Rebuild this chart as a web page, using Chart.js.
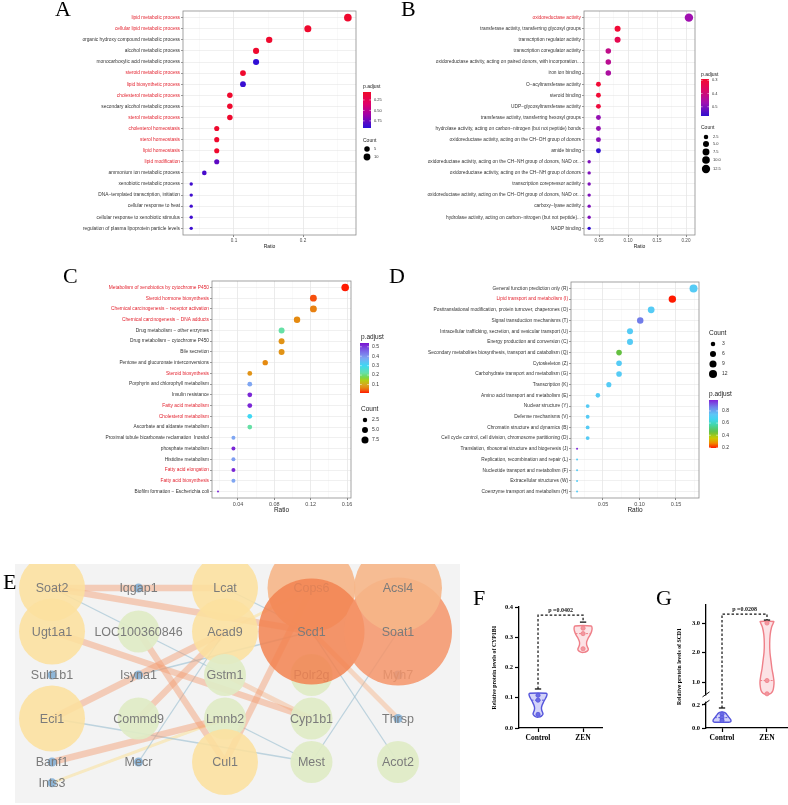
<!DOCTYPE html>
<html lang="en">
<head>
  <meta charset="UTF-8">
  <title>Enrichment, network and protein levels</title>
  <script src="https://cdn.jsdelivr.net/npm/chart.js"></script>
  <style>
    body { margin: 0; background: #fff; }
    #page { position: relative; width: 788px; height: 805px; overflow: hidden; background: #fff; }
    #page canvas { position: absolute; }
    .tag {
      position: absolute;
      font-family: "Liberation Serif", "Times New Roman", serif;
      font-size: 22px;
      line-height: 1;
      color: #000;
    }
  </style>
</head>
<body>
<div id="page">
  <canvas id="chartA" width="400" height="260" style="left:0;top:0"></canvas>
  <canvas id="chartB" width="388" height="260" style="left:400px;top:0"></canvas>
  <canvas id="chartC" width="400" height="260" style="left:0;top:270px"></canvas>
  <canvas id="chartD" width="388" height="260" style="left:400px;top:270px"></canvas>
  <canvas id="chartE" width="445" height="239" style="left:15px;top:564px"></canvas>
  <canvas id="chartF" width="145" height="165" style="left:465px;top:585px"></canvas>
  <canvas id="chartG" width="138" height="165" style="left:650px;top:585px"></canvas>

  <div class="tag" style="left:55px;top:-2px">A</div>
  <div class="tag" style="left:401px;top:-2px">B</div>
  <div class="tag" style="left:63px;top:265px">C</div>
  <div class="tag" style="left:389px;top:265px">D</div>
  <div class="tag" style="left:3px;top:571px">E</div>
  <div class="tag" style="left:473px;top:587px">F</div>
  <div class="tag" style="left:656px;top:587px">G</div>
</div>

<script>
// ---------- A: GO biological process ----------
const termsA = ['lipid metabolic process', 'cellular lipid metabolic process', 'organic hydroxy compound metabolic process',
  'alcohol metabolic process', 'monocarboxylic acid metabolic process', 'steroid metabolic process', 'lipid biosynthetic process',
  'cholesterol metabolic process', 'secondary alcohol metabolic process', 'sterol metabolic process', 'cholesterol homeostasis',
  'sterol homeostasis', 'lipid homeostasis', 'lipid modification', 'ammonium ion metabolic process', 'xenobiotic metabolic process',
  'DNA−templated transcription, initiation', 'cellular response to heat', 'cellular response to xenobiotic stimulus',
  'regulation of plasma lipoprotein particle levels'];
const ratioA = [0.265, 0.207, 0.151, 0.132, 0.132, 0.113, 0.113, 0.094, 0.094, 0.094, 0.075, 0.075, 0.075, 0.075, 0.057, 0.038, 0.038, 0.038, 0.038, 0.038];
const countA = [14, 11, 8, 7, 7, 6, 6, 5, 5, 5, 4, 4, 4, 4, 3, 2, 2, 2, 2, 2];
const padjA = [0.08, 0.08, 0.08, 0.08, 0.9, 0.08, 0.88, 0.08, 0.08, 0.08, 0.08, 0.08, 0.08, 0.78, 0.84, 0.86, 0.86, 0.86, 0.86, 0.87];
const redA = ['lipid metabolic process', 'cellular lipid metabolic process', 'steroid metabolic process', 'lipid biosynthetic process',
  'cholesterol metabolic process', 'sterol metabolic process', 'cholesterol homeostasis', 'sterol homeostasis', 'lipid homeostasis',
  'lipid modification'];

// ---------- B: GO molecular function ----------
const termsB = ['oxidoreductase activity', 'transferase activity, transferring glycosyl groups', 'transcription regulator activity',
  'transcription coregulator activity', 'oxidoreductase activity, acting on paired donors, with incorporation...', 'iron ion binding',
  'O−acyltransferase activity', 'steroid binding', 'UDP−glycosyltransferase activity', 'transferase activity, transferring hexosyl groups',
  'hydrolase activity, acting on carbon−nitrogen (but not peptide) bonds', 'oxidoreductase activity, acting on the CH−OH group of donors',
  'amide binding', 'oxidoreductase activity, acting on the CH−NH group of donors, NAD or...',
  'oxidoreductase activity, acting on the CH−NH group of donors', 'transcription corepressor activity',
  'oxidoreductase activity, acting on the CH−OH group of donors, NAD or...', 'carboxy−lyase activity',
  'hydrolase activity, acting on carbon−nitrogen (but not peptide)...', 'NADP binding'];
const ratioB = [0.205, 0.082, 0.082, 0.066, 0.066, 0.066, 0.049, 0.049, 0.049, 0.049, 0.049, 0.049, 0.049, 0.033, 0.033, 0.033, 0.033, 0.033, 0.033, 0.033];
const countB = [13, 5, 5, 4, 4, 4, 3, 3, 3, 3, 3, 3, 3, 2, 2, 2, 2, 2, 2, 2];
const padjB = [0.47, 0.30, 0.34, 0.42, 0.43, 0.45, 0.30, 0.30, 0.31, 0.48, 0.48, 0.49, 0.57, 0.5, 0.5, 0.5, 0.5, 0.5, 0.5, 0.57];
const redB = ['oxidoreductase activity'];

// ---------- C: KEGG ----------
const termsC = ['Metabolism of xenobiotics by cytochrome P450', 'Steroid hormone biosynthesis', 'Chemical carcinogenesis − receptor activation',
  'Chemical carcinogenesis − DNA adducts', 'Drug metabolism − other enzymes', 'Drug metabolism − cytochrome P450', 'Bile secretion',
  'Pentose and glucuronate interconversions', 'Steroid biosynthesis', 'Porphyrin and chlorophyll metabolism', 'Insulin resistance',
  'Fatty acid metabolism', 'Cholesterol metabolism', 'Ascorbate and aldarate metabolism', 'Proximal tubule bicarbonate reclamation  Inositol',
  'phosphate metabolism', 'Histidine metabolism', 'Fatty acid elongation', 'Fatty acid biosynthesis', 'Biofilm formation − Escherichia coli'];
const ratioC = [0.158, 0.123, 0.123, 0.105, 0.088, 0.088, 0.088, 0.070, 0.053, 0.053, 0.053, 0.053, 0.053, 0.053, 0.035, 0.035, 0.035, 0.035, 0.035, 0.018];
const countC = [9, 7, 7, 6, 5, 5, 5, 4, 3, 3, 3, 3, 3, 3, 2, 2, 2, 2, 2, 1];
const padjC = [0.01, 0.035, 0.06, 0.065, 0.22, 0.075, 0.075, 0.065, 0.075, 0.38, 0.52, 0.52, 0.30, 0.22, 0.38, 0.52, 0.39, 0.52, 0.38, 0.52];
const redC = ['Metabolism of xenobiotics by cytochrome P450', 'Steroid hormone biosynthesis', 'Chemical carcinogenesis − receptor activation',
  'Chemical carcinogenesis − DNA adducts', 'Steroid biosynthesis', 'Fatty acid metabolism', 'Cholesterol metabolism',
  'Fatty acid elongation', 'Fatty acid biosynthesis'];

// ---------- D: COG ----------
const termsD = ['General function prediction only (R)', 'Lipid transport and metabolism (I)',
  'Posttranslational modification, protein turnover, chaperones (O)', 'Signal transduction mechanisms (T)',
  'Intracellular trafficking, secretion, and vesicular transport (U)', 'Energy production and conversion (C)',
  'Secondary metabolites biosynthesis, transport and catabolism (Q)', 'Cytoskeleton (Z)', 'Carbohydrate transport and metabolism (G)',
  'Transcription (K)', 'Amino acid transport and metabolism (E)', 'Nuclear structure (Y)', 'Defense mechanisms (V)',
  'Chromatin structure and dynamics (B)', 'Cell cycle control, cell division, chromosome partitioning (D)',
  'Translation, ribosomal structure and biogenesis (J)', 'Replication, recombination and repair (L)',
  'Nucleotide transport and metabolism (F)', 'Extracellular structures (W)', 'Coenzyme transport and metabolism (H)'];
const ratioD = [0.174, 0.145, 0.116, 0.101, 0.087, 0.087, 0.072, 0.072, 0.072, 0.058, 0.043, 0.029, 0.029, 0.029, 0.029, 0.0145, 0.0145, 0.0145, 0.0145, 0.0145];
const countD = [12, 10, 8, 7, 6, 6, 5, 5, 5, 4, 3, 2, 2, 2, 2, 1, 1, 1, 1, 1];
const padjD = [0.72, 0.19, 0.72, 0.87, 0.72, 0.72, 0.45, 0.72, 0.72, 0.72, 0.72, 0.72, 0.72, 0.72, 0.72, 0.97, 0.72, 0.72, 0.72, 0.72];
const redD = ['Lipid transport and metabolism (I)'];

// ---------- E: interaction network ----------
const nodeName = ['Soat2', 'Iqgap1', 'Lcat', 'Cops6', 'Ugt1a1', 'LOC100360846', 'Acad9', 'Sult1b1', 'Isyna1', 'Gstm1', 'Polr2g', 'Myh7',
  'Eci1', 'Commd9', 'Lmnb2', 'Cyp1b1', 'Thrsp', 'Banf1', 'Mecr', 'Cul1', 'Mest', 'Acot2', 'Ints3', 'Scd1', 'Soat1', 'Acsl4'];
const nodeCol = [0, 1, 2, 3, 0, 1, 2, 0, 1, 2, 3, 4, 0, 1, 2, 3, 4, 0, 1, 2, 3, 4, 0, 3, 4, 4];
const nodeRow = [0, 0, 0, 0, 1, 1, 1, 2, 2, 2, 2, 2, 3, 3, 3, 3, 3, 4, 4, 4, 4, 4, 4.48, 1, 1, 0];
const nodeDegree = [4, 1, 4, 7, 4, 2, 4, 1, 1, 2, 2, 1, 4, 2, 2, 2, 1, 1, 1, 4, 2, 2, 1, 10, 9, 7];
const frontNodes = ['Scd1', 'Soat1', 'Acsl4'];
const edgeFrom = ['Soat2', 'Soat2', 'Ugt1a1', 'LOC100360846', 'Eci1', 'Commd9', 'Banf1', 'Cul1', 'Gstm1', 'Scd1',
  'Soat2', 'Lcat', 'Eci1', 'Isyna1', 'Mecr', 'Mest', 'Scd1', 'Lmnb2', 'Ints3', 'Acad9'];
const edgeTo = ['Lcat', 'Scd1', 'Cyp1b1', 'Cul1', 'Acad9', 'Acad9', 'Lmnb2', 'Cops6', 'Cyp1b1', 'Thrsp',
  'Gstm1', 'Scd1', 'Mest', 'Scd1', 'Acad9', 'Soat1', 'Acot2', 'Mest', 'Lmnb2', 'Cops6'];
const edgeScore = [0.92, 0.92, 0.95, 0.95, 0.95, 0.95, 0.95, 0.95, 0.8, 0.7, 0.3, 0.3, 0.3, 0.3, 0.3, 0.3, 0.3, 0.3, 0.5, 0.5];

// ---------- F / G: protein levels ----------
const groups = ['Control', 'ZEN'];
const cypTicks = [0, 0.1, 0.2, 0.3, 0.4];
const cypCtrlLevels = [0.036, 0.040, 0.046, 0.052, 0.058, 0.066, 0.075, 0.085, 0.095, 0.105, 0.112, 0.115];
const cypCtrlDensity = [0.15, 0.4, 0.55, 0.5, 0.42, 0.38, 0.45, 0.6, 0.78, 0.95, 1.0, 0.9];
const cypZenLevels = [0.250, 0.254, 0.260, 0.267, 0.275, 0.285, 0.296, 0.308, 0.320, 0.330, 0.337];
const cypZenDensity = [0.15, 0.45, 0.58, 0.5, 0.4, 0.4, 0.55, 0.78, 0.95, 1.0, 0.9];
const cypCtrl = [0.108, 0.092, 0.045];
const cypZen = [0.33, 0.312, 0.262];
const cypBracket = [0.129, 0.373, 0.35];
const cypP = 'p =0.0402';

const scdTicks = [0, 0.2, 1, 2, 3];
const scdCtrlLevels = [0.05, 0.055, 0.065, 0.08, 0.095, 0.11, 0.125, 0.135, 0.14];
const scdCtrlDensity = [0.8, 0.95, 1.0, 0.9, 0.75, 0.6, 0.45, 0.25, 0.05];
const scdZenLevels = [0.58, 0.62, 0.7, 0.85, 1.0, 1.2, 1.45, 1.7, 2.0, 2.3, 2.6, 2.85, 3.0, 3.05];
const scdZenDensity = [0.15, 0.45, 0.65, 0.75, 0.78, 0.7, 0.55, 0.45, 0.33, 0.3, 0.35, 0.5, 0.7, 0.75];
const scdCtrl = [0.12, 0.09, 0.065];
const scdZen = [3.0, 1.05, 0.6];
const scdBracket = [0.174, 3.305, 3.1];
const scdP = 'p =0.0208';

// ================= helpers =================
const SANS = '"Liberation Sans", Arial, sans-serif';
const SERIF = '"Liberation Serif", "Times New Roman", serif';
Chart.defaults.font.family = SANS;

function hexRgb(h) { return [1, 3, 5].map(i => parseInt(h.slice(i, i + 2), 16)); }
function colorAt(stops, p) {
  let c;
  if (p <= stops[0][0]) c = hexRgb(stops[0][1]);
  else if (p >= stops[stops.length - 1][0]) c = hexRgb(stops[stops.length - 1][1]);
  else {
    for (let i = 1; i < stops.length; i++) {
      if (p <= stops[i][0]) {
        const a = hexRgb(stops[i - 1][1]), b = hexRgb(stops[i][1]);
        const t = (p - stops[i - 1][0]) / (stops[i][0] - stops[i - 1][0]);
        c = a.map((v, k) => Math.round(v + (b[k] - v) * t));
        break;
      }
    }
  }
  return `rgb(${c[0]},${c[1]},${c[2]})`;
}

const framePlugin = {
  id: 'frame',
  afterDatasetsDraw(chart) {
    const { ctx, chartArea: a } = chart;
    ctx.save();
    ctx.strokeStyle = '#8c8c8c';
    ctx.lineWidth = 0.8;
    ctx.strokeRect(a.left, a.top, a.right - a.left, a.bottom - a.top);
    ctx.restore();
  }
};

// p.adjust colour bar + Count size key
function keyPlugin(k, stops, rOf) {
  return {
    id: 'key',
    afterDraw(chart) {
      const ctx = chart.ctx;
      ctx.save();
      ctx.textBaseline = 'middle';
      ctx.textAlign = 'left';
      ctx.fillStyle = '#222';
      ctx.font = `${k.tFont}px ${SANS}`;
      ctx.fillText('p.adjust', k.pTitle[0], k.pTitle[1]);
      const [bx, by, bw, bh] = k.bar;
      const g = ctx.createLinearGradient(0, by, 0, by + bh);
      for (let i = 0; i <= 20; i++) {
        const t = i / 20;
        g.addColorStop(t, colorAt(stops, k.pTop + (k.pBot - k.pTop) * t));
      }
      ctx.fillStyle = g;
      ctx.fillRect(bx, by, bw, bh);
      ctx.font = `${k.lFont}px ${SANS}`;
      k.pTicks.forEach((p, i) => {
        const y = by + (p - k.pTop) / (k.pBot - k.pTop) * bh;
        ctx.strokeStyle = '#fff';
        ctx.lineWidth = 0.5;
        ctx.beginPath();
        ctx.moveTo(bx, y); ctx.lineTo(bx + bw * 0.2, y);
        ctx.moveTo(bx + bw * 0.8, y); ctx.lineTo(bx + bw, y);
        ctx.stroke();
        ctx.fillStyle = '#333';
        ctx.fillText(k.pLabels[i], k.labX, y);
      });
      ctx.fillStyle = '#222';
      ctx.font = `${k.tFont}px ${SANS}`;
      ctx.fillText('Count', k.cTitle[0], k.cTitle[1]);
      ctx.font = `${k.lFont}px ${SANS}`;
      k.cVals.forEach((c, i) => {
        ctx.fillStyle = '#000';
        ctx.beginPath();
        ctx.arc(k.dotX, k.dotY[i], rOf(c), 0, Math.PI * 2);
        ctx.fill();
        ctx.fillStyle = '#333';
        ctx.fillText(k.cLabels[i], k.cLabX, k.dotY[i]);
      });
      ctx.restore();
    }
  };
}

function dotPlot(id, terms, ratio, count, padj, redTerms, s) {
  const rOf = c => s.rMin + (s.rMax - s.rMin) * Math.sqrt(Math.max(0, (c - s.cMin) / (s.cMax - s.cMin)));
  const isMajor = v => Math.abs(v / s.major - Math.round(v / s.major)) < 1e-6;
  return new Chart(document.getElementById(id), {
    type: 'scatter',
    data: {
      datasets: [{
        data: ratio.map((r, i) => ({ x: r, y: i })),
        pointRadius: count.map(rOf),
        pointHoverRadius: count.map(rOf),
        pointBackgroundColor: padj.map(p => colorAt(s.stops, p)),
        pointBorderWidth: 0,
        pointBorderColor: 'rgba(0,0,0,0)'
      }]
    },
    options: {
      responsive: false,
      animation: false,
      events: [],
      layout: { padding: s.pad, autoPadding: false },
      plugins: { legend: { display: false }, tooltip: { enabled: false } },
      scales: {
        x: {
          type: 'linear',
          min: s.xMin,
          max: s.xMax,
          afterBuildTicks: sc => {
            const t = [];
            for (let v = Math.ceil(s.xMin / s.minor - 1e-9) * s.minor; v <= s.xMax + 1e-9; v += s.minor) t.push({ value: +v.toFixed(4) });
            sc.ticks = t;
          },
          afterFit: sc => { sc.height = s.xH; },
          ticks: {
            autoSkip: false, maxRotation: 0, padding: 1, color: '#4d4d4d',
            font: { size: s.tickFont },
            callback: v => isMajor(v) ? v.toFixed(s.dec) : ''
          },
          grid: {
            color: c => isMajor(c.tick.value) ? '#e3e3e3' : '#f1f1f1',
            lineWidth: c => isMajor(c.tick.value) ? 0.7 : 0.4,
            tickLength: 2,
            tickColor: c => isMajor(c.tick.value) ? '#555' : 'rgba(0,0,0,0)'
          },
          border: { display: false },
          title: { display: true, text: 'Ratio', color: '#222', padding: 0, font: { size: s.titleFont } }
        },
        y: {
          type: 'linear',
          reverse: true,
          min: -0.6,
          max: terms.length - 0.4,
          afterBuildTicks: sc => { sc.ticks = terms.map((_, i) => ({ value: i })); },
          afterFit: sc => { sc.width = s.yW; },
          ticks: {
            autoSkip: false, padding: 1,
            font: { size: s.labFont },
            color: c => redTerms.includes(terms[c.tick.value]) ? '#e3232f' : '#333',
            callback: v => terms[v]
          },
          grid: { color: '#e6e6e6', lineWidth: 0.6, tickLength: 2, tickColor: '#555' },
          border: { display: false }
        }
      }
    },
    plugins: [framePlugin, keyPlugin(s.key, s.stops, rOf)]
  });
}

// ================= A =================
dotPlot('chartA', termsA, ratioA, countA, padjA, redA, {
  pad: { top: 11, right: 44, bottom: 10, left: 0 }, yW: 183, xH: 15,
  xMin: 0.0261, xMax: 0.2768, minor: 0.05, major: 0.1, dec: 1,
  labFont: 4.8, tickFont: 4.6, titleFont: 5,
  rMin: 1.7, rMax: 3.8, cMin: 2, cMax: 14,
  stops: [[0.06, '#f00a2a'], [0.35, '#e0006a'], [0.6, '#a000a8'], [0.92, '#2a10d8']],
  key: {
    tFont: 5, lFont: 4, pTitle: [363, 87], bar: [363, 92, 8, 36], pTop: 0.06, pBot: 0.92,
    pTicks: [0.25, 0.5, 0.75], pLabels: ['0.25', '0.50', '0.75'], labX: 374,
    cTitle: [363, 141], dotX: 367, dotY: [149, 157], cVals: [5, 10], cLabels: ['5', '10'], cLabX: 374
  }
});

// ================= B =================
dotPlot('chartB', termsB, ratioB, countB, padjB, redB, {
  pad: { top: 11, right: 93, bottom: 10, left: 0 }, yW: 184, xH: 15,
  xMin: 0.0241, xMax: 0.2155, minor: 0.025, major: 0.05, dec: 2,
  labFont: 4.8, tickFont: 4.6, titleFont: 5,
  rMin: 1.7, rMax: 4.2, cMin: 2, cMax: 13,
  stops: [[0.29, '#f50a30'], [0.38, '#d8086a'], [0.47, '#a010b0'], [0.57, '#3010d0']],
  key: {
    tFont: 5, lFont: 4, pTitle: [301, 75], bar: [301, 79, 8, 37], pTop: 0.29, pBot: 0.57,
    pTicks: [0.3, 0.4, 0.5], pLabels: ['0.3', '0.4', '0.5'], labX: 312,
    cTitle: [301, 128], dotX: 306, dotY: [137, 144, 152, 160, 169], cVals: [2.5, 5, 7.5, 10, 12.5],
    cLabels: ['2.5', '5.0', '7.5', '10.0', '12.5'], cLabX: 313
  }
});

// ================= C =================
dotPlot('chartC', termsC, ratioC, countC, padjC, redC, {
  pad: { top: 11, right: 49, bottom: 16, left: 0 }, yW: 212, xH: 16,
  xMin: 0.0114, xMax: 0.1644, minor: 0.02, major: 0.04, dec: 2,
  labFont: 4.8, tickFont: 5.5, titleFont: 6.5,
  rMin: 1.0, rMax: 3.8, cMin: 1, cMax: 9,
  stops: [[0.01, '#ff1a00'], [0.04, '#f45a10'], [0.065, '#e58a10'], [0.09, '#dca020'], [0.14, '#b8cc10'], [0.18, '#70d850'],
    [0.22, '#66e0a6'], [0.30, '#3ed8f4'], [0.38, '#7fa6f2'], [0.46, '#7a60e6'], [0.54, '#7a12d0']],
  key: {
    tFont: 6.5, lFont: 5, pTitle: [361, 67], bar: [360, 73, 9, 50], pTop: 0.54, pBot: 0.01,
    pTicks: [0.5, 0.4, 0.3, 0.2, 0.1], pLabels: ['0.5', '0.4', '0.3', '0.2', '0.1'], labX: 372,
    cTitle: [361, 139], dotX: 365, dotY: [150, 160, 170], cVals: [2.5, 5, 7.5], cLabels: ['2.5', '5.0', '7.5'], cLabX: 372
  }
});

// ================= D =================
dotPlot('chartD', termsD, ratioD, countD, padjD, redD, {
  pad: { top: 12, right: 89, bottom: 16, left: 0 }, yW: 171, xH: 16,
  xMin: 0.0062, xMax: 0.1815, minor: 0.025, major: 0.05, dec: 2,
  labFont: 4.8, tickFont: 5.5, titleFont: 6.5,
  rMin: 1.0, rMax: 4.0, cMin: 1, cMax: 12,
  stops: [[0.19, '#ff1a00'], [0.27, '#f08a00'], [0.36, '#c8d000'], [0.45, '#64c040'], [0.58, '#40d8b0'], [0.66, '#40d4f0'],
    [0.74, '#5cc8f6'], [0.86, '#7084ea'], [0.98, '#8020d8']],
  key: {
    tFont: 6.5, lFont: 5, pTitle: [309, 124], bar: [309, 130, 9, 48], pTop: 0.98, pBot: 0.19,
    pTicks: [0.8, 0.6, 0.4, 0.2], pLabels: ['0.8', '0.6', '0.4', '0.2'], labX: 322,
    cTitle: [309, 63], dotX: 313, dotY: [74, 84, 94, 104], cVals: [3, 6, 9, 12], cLabels: ['3', '6', '9', '12'], cLabX: 322
  }
});

// ================= E =================
function nodeStyle(deg) {
  if (deg >= 10) return { r: 53, c: 'rgba(242,130,80,0.85)' };
  if (deg >= 9) return { r: 54, c: 'rgba(244,148,104,0.85)' };
  if (deg >= 7) return { r: 44, c: 'rgba(246,182,136,0.9)' };
  if (deg >= 4) return { r: 33, c: 'rgba(252,224,158,0.88)' };
  if (deg >= 2) return { r: 21, c: 'rgba(224,236,198,0.92)' };
  return { r: 4.5, c: 'rgba(132,176,214,0.9)' };
}
function edgeStyle(score) {
  if (score >= 0.9) return { c: 'rgba(245,155,110,0.45)', w: 6.5 };
  if (score >= 0.6) return { c: 'rgba(247,180,136,0.45)', w: 5 };
  if (score >= 0.45) return { c: 'rgba(248,228,172,0.7)', w: 3 };
  return { c: 'rgba(165,196,212,0.7)', w: 1.3 };
}
const nodePt = name => {
  const i = nodeName.indexOf(name);
  return { x: nodeCol[i], y: nodeRow[i] };
};
const backIdx = nodeName.map((_, i) => i).filter(i => !frontNodes.includes(nodeName[i]));
const frontIdx = frontNodes.map(n => nodeName.indexOf(n));
const nodeSet = (idx, order) => ({
  data: idx.map(i => ({ x: nodeCol[i], y: nodeRow[i] })),
  names: idx.map(i => nodeName[i]),
  pointRadius: idx.map(i => nodeStyle(nodeDegree[i]).r),
  pointBackgroundColor: idx.map(i => nodeStyle(nodeDegree[i]).c),
  pointBorderWidth: 0,
  order: order
});
const edgeSets = edgeFrom.map((f, i) => {
  const st = edgeStyle(edgeScore[i]);
  return {
    data: [nodePt(f), nodePt(edgeTo[i])],
    showLine: true, borderColor: st.c, borderWidth: st.w,
    pointRadius: 0, order: 2
  };
});
const netLabels = {
  id: 'netLabels',
  beforeDraw(chart) {
    const { ctx, chartArea: a } = chart;
    ctx.save();
    ctx.fillStyle = '#f3f3f3';
    ctx.fillRect(a.left, a.top, a.right - a.left, a.bottom - a.top);
    ctx.restore();
  },
  afterDatasetDraw(chart, args) {
    const ds = chart.data.datasets[args.index];
    if (!ds.names) return;
    const { ctx, scales: { x, y } } = chart;
    ctx.save();
    ctx.font = `12.5px ${SANS}`;
    ctx.fillStyle = '#7b7b7b';
    ctx.textAlign = 'center';
    ctx.textBaseline = 'middle';
    ds.data.forEach((p, i) => ctx.fillText(ds.names[i], x.getPixelForValue(p.x), y.getPixelForValue(p.y) + 1));
    ctx.restore();
  }
};
new Chart(document.getElementById('chartE'), {
  type: 'scatter',
  data: { datasets: [nodeSet(frontIdx, 0), nodeSet(backIdx, 1)].concat(edgeSets) },
  options: {
    responsive: false,
    animation: false,
    events: [],
    layout: { padding: 0, autoPadding: false },
    plugins: { legend: { display: false }, tooltip: { enabled: false } },
    scales: {
      x: { type: 'linear', display: false, min: -0.428, max: 4.717 },
      y: { type: 'linear', display: false, reverse: true, min: -0.552, max: 4.943 }
    }
  },
  plugins: [netLabels]
});

// ================= F / G =================
function violinPlot(id, c) {
  const tf = c.tf || (v => v);
  const halfMax = 0.2;
  const shape = (cx, lv, dens) => {
    const right = lv.map((v, i) => ({ x: cx + dens[i] * halfMax, y: tf(v) }));
    const left = lv.map((v, i) => ({ x: cx - dens[i] * halfMax, y: tf(v) })).reverse();
    return right.concat(left, [right[0]]);
  };
  const halfAt = (lv, dens, v) => {
    for (let i = 1; i < lv.length; i++) {
      if (v <= lv[i]) return (dens[i - 1] + (dens[i] - dens[i - 1]) * (v - lv[i - 1]) / (lv[i] - lv[i - 1])) * halfMax;
    }
    return dens[dens.length - 1] * halfMax;
  };
  const blue = '#5656dc', red = '#ef7f88';
  const median = (cx, lv, dens, v, col) => {
    const h = halfAt(lv, dens, v);
    return { data: [{ x: cx - h, y: tf(v) }, { x: cx + h, y: tf(v) }], showLine: true, borderColor: col, borderWidth: 1, borderDash: [2, 1.5], pointRadius: 0, order: 1 };
  };
  const cap = (cx, v) => ({ data: [{ x: cx - 0.07, y: tf(v) }, { x: cx + 0.07, y: tf(v) }], showLine: true, borderColor: '#111', borderWidth: 1.3, pointRadius: 0, order: 1 });
  const [bLo, bTop, bHi] = c.bracket;
  const datasets = [
    { data: c.ctrl.map(v => ({ x: 1, y: tf(v) })), pointRadius: 2.1, pointBackgroundColor: '#6a6ae6', pointBorderColor: blue, pointBorderWidth: 0.8, order: 0 },
    { data: c.zen.map(v => ({ x: 2, y: tf(v) })), pointRadius: 2.1, pointBackgroundColor: '#f3979f', pointBorderColor: red, pointBorderWidth: 0.8, order: 0 },
    median(1, c.ctrlLv, c.ctrlDen, c.ctrl[1], blue),
    median(2, c.zenLv, c.zenDen, c.zen[1], red),
    { data: [{ x: 1, y: tf(bLo) }, { x: 1, y: tf(bTop) }, { x: 2, y: tf(bTop) }, { x: 2, y: tf(bHi) }], showLine: true, borderColor: '#111', borderWidth: 1.2, borderDash: [2.5, 2], pointRadius: 0, order: 1 },
    cap(1, bLo), cap(2, bHi),
    { data: shape(1, c.ctrlLv, c.ctrlDen), showLine: true, fill: 'shape', backgroundColor: 'rgba(120,120,236,0.33)', borderColor: blue, borderWidth: 1.4, tension: 0.3, pointRadius: 0, order: 2 },
    { data: shape(2, c.zenLv, c.zenDen), showLine: true, fill: 'shape', backgroundColor: 'rgba(246,160,168,0.3)', borderColor: red, borderWidth: 1.4, tension: 0.3, pointRadius: 0, order: 2 }
  ];
  const extras = {
    id: 'extras',
    afterDraw(chart) {
      const { ctx, scales: { x, y }, chartArea: a } = chart;
      ctx.save();
      ctx.font = `bold 6px ${SERIF}`;
      ctx.fillStyle = '#111';
      ctx.textAlign = 'center';
      ctx.textBaseline = 'bottom';
      ctx.fillText(c.pText, x.getPixelForValue(1.5), y.getPixelForValue(tf(bTop)) - 1.5);
      if (c.brk) {
        const yUp = y.getPixelForValue(tf(c.brk[1]));
        const yLo = y.getPixelForValue(tf(c.brk[0]));
        const ax = a.left;
        ctx.fillStyle = '#fff';
        ctx.fillRect(ax - 2, yUp + 1, 4, yLo - yUp - 2);
        ctx.strokeStyle = '#111';
        ctx.lineWidth = 1;
        [yUp, yLo].forEach(yy => {
          ctx.beginPath();
          ctx.moveTo(ax - 3.5, yy + 2.5);
          ctx.lineTo(ax + 3.5, yy - 2.5);
          ctx.stroke();
        });
      }
      ctx.restore();
    }
  };
  return new Chart(document.getElementById(id), {
    type: 'scatter',
    data: { datasets },
    options: {
      responsive: false,
      animation: false,
      events: [],
      layout: { padding: c.pad, autoPadding: false },
      plugins: { legend: { display: false }, tooltip: { enabled: false } },
      scales: {
        x: {
          type: 'linear', min: c.xMin, max: c.xMax,
          afterBuildTicks: sc => { sc.ticks = groups.map((_, i) => ({ value: i + 1 })); },
          afterFit: sc => { sc.height = 22; },
          ticks: { autoSkip: false, maxRotation: 0, padding: 2, color: '#000', font: { family: SERIF, weight: 'bold', size: 7.5 }, callback: (v, i) => groups[i] },
          grid: { drawOnChartArea: false, tickLength: 4, tickColor: '#000', tickWidth: 1.2 },
          border: { color: '#000', width: 1.3 }
        },
        y: {
          type: 'linear', min: 0, max: c.yMax,
          afterBuildTicks: sc => { sc.ticks = c.ticks.map(v => ({ value: tf(v) })); },
          afterFit: sc => { sc.width = c.yW; },
          ticks: { autoSkip: false, padding: 2, color: '#000', font: { family: SERIF, weight: 'bold', size: 6.5 }, callback: (v, i) => c.ticks[i].toFixed(1) },
          grid: { drawOnChartArea: false, tickLength: 4, tickColor: '#000', tickWidth: 1.2 },
          border: { color: '#000', width: 1.3 },
          title: { display: true, text: c.yTitle, color: '#000', padding: { top: 2.5, bottom: 0 }, font: { family: SERIF, weight: 'bold', size: 5.8 } }
        }
      }
    },
    plugins: [extras]
  });
}

violinPlot('chartF', {
  pad: { left: 24, top: 22, right: 8, bottom: 0 }, yW: 30, xMin: 0.578, xMax: 2.42, yMax: 0.4,
  ticks: cypTicks, yTitle: 'Relative protein levels of CYP1B1',
  ctrlLv: cypCtrlLevels, ctrlDen: cypCtrlDensity, zenLv: cypZenLevels, zenDen: cypZenDensity,
  ctrl: cypCtrl, zen: cypZen, bracket: cypBracket, pText: cypP
});

// broken axis: lower segment 0-0.2 stretched, upper segment 1-3 compressed
const scdAxis = v => v <= 0.3 ? v * 3.9 : 1.559 + (v - 1);
violinPlot('chartG', {
  pad: { left: 24, top: 20, right: 0, bottom: 0 }, yW: 32, xMin: 0.644, xMax: 2.467, yMax: 4.17,
  ticks: scdTicks, yTitle: 'Relative protein levels of SCD1', tf: scdAxis, brk: [0.22, 0.58],
  ctrlLv: scdCtrlLevels, ctrlDen: scdCtrlDensity, zenLv: scdZenLevels, zenDen: scdZenDensity,
  ctrl: scdCtrl, zen: scdZen, bracket: scdBracket, pText: scdP
});
</script>
</body>
</html>
